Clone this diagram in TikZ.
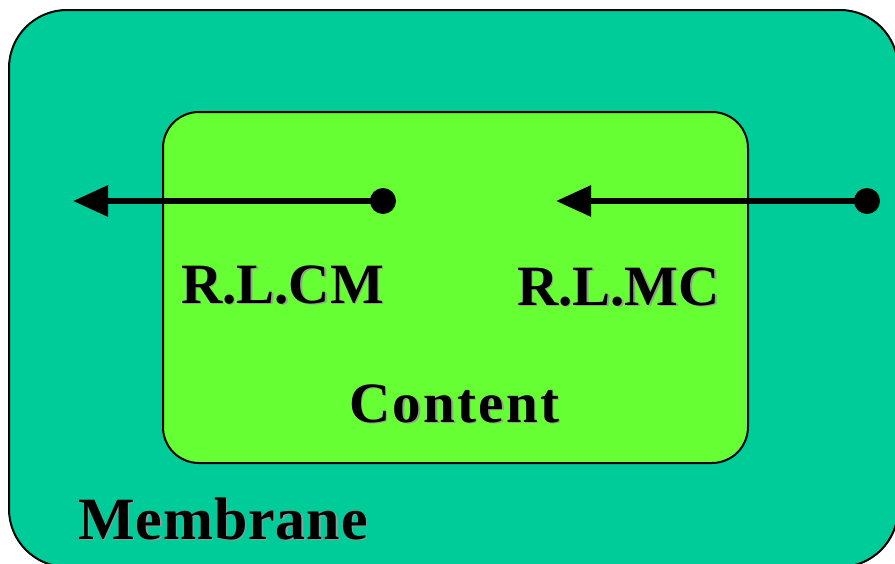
\documentclass[tikz,border=0pt]{standalone}
\usepackage{fontspec}
\setmainfont{Liberation Serif}
\usetikzlibrary{arrows.meta,calc}
\definecolor{membranecol}{HTML}{00CC99}
\definecolor{contentcol}{HTML}{66FF33}
\definecolor{shadowcol}{HTML}{9A9A9A}
\tikzset{
  layer/.style={draw=black, line width=2pt},
  endpoint/.style={circle, fill=black, inner sep=0pt, minimum size=26pt},
  link/.style={line width=6pt, -{Triangle[length=35pt,width=30pt]}},
  lbl/.style={anchor=base west, inner sep=0pt, font=\bfseries\fontsize{57}{60}\selectfont},
  lblshadow/.style={lbl, text=shadowcol},
}
% shadowed label: gray copy slightly right/down, black text on top
\newcommand{\shadowlabel}[3]{%
  \node[lblshadow] at ($(#2)+(1.6,1.6)$) {#3};
  \node[lbl] (#1) at (#2) {#3};
}
\begin{document}
\begin{tikzpicture}[x=1pt,y=-1pt]
  \useasboundingbox (0,0) rectangle (895,563);
  \clip (0,0) rectangle (895,563);
  % outer layer
  \draw[layer, fill=membranecol, rounded corners=58pt] (9,10) rectangle (898,567);
  % inner layer
  \draw[layer, fill=contentcol, rounded corners=36pt] (163,112) rectangle (748,463);
  % connectors
  \node[endpoint] (cmsrc) at (383,201) {};
  \coordinate (cmdst) at (73,201);
  \node[endpoint] (mcsrc) at (867,201) {};
  \coordinate (mcdst) at (556,201);
  \draw[link] (cmsrc.center) -- (cmdst);
  \draw[link] (mcsrc.center) -- (mcdst);
  % labels
  \shadowlabel{cm}{181,303}{R.L.CM}
  \shadowlabel{mc}{517,305}{R.L.MC}
  \shadowlabel{content}{349,422}{\addfontfeatures{LetterSpace=4}Content}
  \shadowlabel{membrane}{78,539}{\fontsize{60}{62}\selectfont\addfontfeatures{LetterSpace=1.5}Membrane}
\end{tikzpicture}
\end{document}
